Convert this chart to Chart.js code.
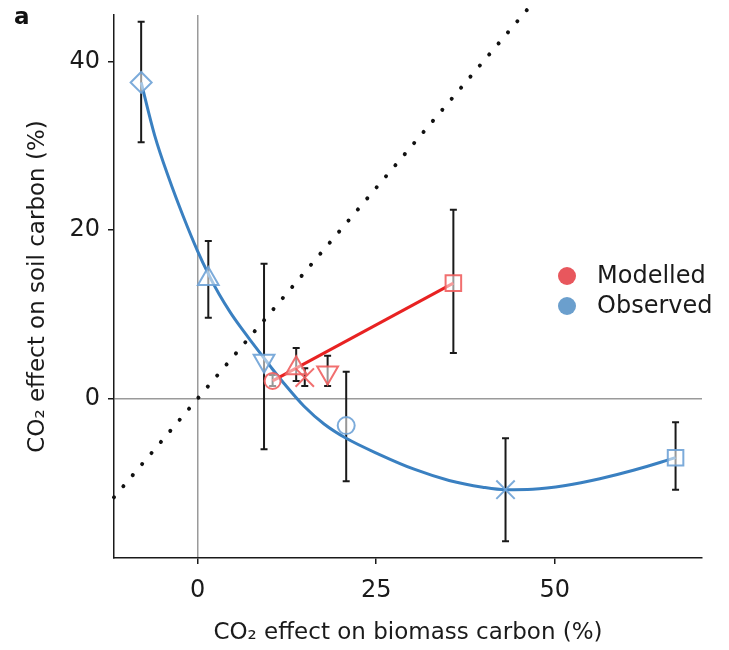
<!DOCTYPE html>
<html>
<head>
<meta charset="utf-8">
<script src="https://cdn.jsdelivr.net/npm/chart.js@4.4.0/dist/chart.umd.min.js"></script>
<style>
  body { margin: 0; background: #fff; }
</style>
</head>
<body>
<canvas id="myChart" width="729" height="650"></canvas>
<script>
// observed points (blue)
var obsX  = [-7.9, 1.5, 9.3, 20.8, 43.1, 66.9];
var obsY  = [37.5, 14.2, 4.5, -3.2, -10.8, -7.0];
var obsLo = [30.4, 9.6, -6.0, -9.8, -16.9, -10.8];
var obsHi = [44.7, 18.7, 16.0, 3.2, -4.7, -2.8];

// modelled points (red)
var modX  = [10.5, 13.8, 15.0, 18.2, 35.8];
var modY  = [2.1, 3.6, 2.5, 3.1, 13.7];
var modLo = [1.5, 2.1, 1.5, 1.5, 5.4];
var modHi = [2.8, 6.0, 3.6, 5.1, 22.4];

// fitted curve through observed
var fitX = [-7.9, -6, -4, -2, 0, 1.5, 3, 4.6, 6, 7.5, 9.3, 10.3, 12.1, 14.9, 17.7, 20.8, 25.4, 30.4, 35.2, 39.9, 43.1, 46.9, 51.5, 56.3, 61.0, 66.9];
var fitY = [37.5, 31.2, 26.1, 21.6, 17.5, 14.8, 12.4, 10.2, 8.5, 6.8, 4.8, 3.7, 1.8, -0.9, -3.0, -4.7, -6.6, -8.4, -9.7, -10.5, -10.8, -10.75, -10.3, -9.5, -8.5, -7.0];

// 1:1 line
var oneX = [-11.7, 47.2];

var xTicks = [0, 25, 50];
var yTicks = [0, 20, 40];
var seriesNames = ["Modelled", "Observed"];

var ctx = document.getElementById("myChart").getContext('2d');

var obsPts = [], modPts = [], fitPts = [], onePts = [];
for (var i = 0; i < obsX.length; i++) obsPts.push({x: obsX[i], y: obsY[i]});
for (var i = 0; i < modX.length; i++) modPts.push({x: modX[i], y: modY[i]});
for (var i = 0; i < fitX.length; i++) fitPts.push({x: fitX[i], y: fitY[i]});
for (var i = 0; i < oneX.length; i++) onePts.push({x: oneX[i], y: oneX[i]});
var modLine = [modPts[0], modPts[modPts.length - 1]];

var font = "'DejaVu Sans', sans-serif";

var errorBars = {
  id: 'errorBars',
  beforeDatasetsDraw: function(chart) {
    var c = chart.ctx, xs = chart.scales.x, ys = chart.scales.y;
    function bars(X, Lo, Hi) {
      for (var i = 0; i < X.length; i++) {
        var px = xs.getPixelForValue(X[i]);
        var p1 = ys.getPixelForValue(Lo[i]);
        var p2 = ys.getPixelForValue(Hi[i]);
        c.beginPath();
        c.moveTo(px, p1); c.lineTo(px, p2);
        c.moveTo(px - 3.5, p1); c.lineTo(px + 3.5, p1);
        c.moveTo(px - 3.5, p2); c.lineTo(px + 3.5, p2);
        c.stroke();
      }
    }
    c.save();
    c.strokeStyle = '#1a1a1a';
    c.lineWidth = 2;
    bars(obsX, obsLo, obsHi);
    bars(modX, modLo, modHi);
    c.restore();
  }
};

var extras = {
  id: 'extras',
  afterDraw: function(chart) {
    var c = chart.ctx;
    c.save();
    c.fillStyle = '#111';
    c.font = "bold 23px " + font;
    c.textBaseline = 'alphabetic';
    c.fillText('a', 14, 24);
    // legend
    var cols = ['#e8575d', '#6b9fcd'];
    c.font = "24px " + font;
    c.textBaseline = 'middle';
    for (var i = 0; i < seriesNames.length; i++) {
      var y = 276 + i * 30;
      c.beginPath();
      c.fillStyle = cols[i];
      c.arc(567, y, 9, 0, Math.PI * 2);
      c.fill();
      c.fillStyle = '#1a1a1a';
      c.fillText(seriesNames[i], 597, y + 1);
    }
    c.restore();
  }
};

var myChart = new Chart(ctx, {
  type: 'scatter',
  data: {
    datasets: [
      {
        label: "Modelled",
        data: modPts,
        pointStyle: ['circle', 'triangle', 'crossRot', 'triangle', 'rect'],
        pointRotation: [0, 0, 0, 180, 0],
        pointRadius: [8, 12, 13, 12, 11],
        pointBorderColor: 'rgba(240, 95, 95, 0.9)',
        pointBackgroundColor: 'rgba(255, 255, 255, 0.55)',
        pointBorderWidth: 2,
        showLine: false
      },
      {
        label: "Observed",
        data: obsPts,
        pointStyle: ['rectRot', 'triangle', 'triangle', 'circle', 'crossRot', 'rect'],
        pointRotation: [0, 0, 180, 0, 0, 0],
        pointRadius: [10.5, 12, 12, 8.5, 13, 11],
        pointBorderColor: 'rgba(110, 162, 214, 0.9)',
        pointBackgroundColor: 'rgba(255, 255, 255, 0.55)',
        pointBorderWidth: 2,
        showLine: false
      },
      {
        label: "Modelled fit",
        data: modLine,
        showLine: true,
        borderColor: '#e82222',
        borderWidth: 3,
        pointRadius: 0
      },
      {
        label: "Observed fit",
        data: fitPts,
        showLine: true,
        borderColor: '#3a80c1',
        borderWidth: 3,
        cubicInterpolationMode: 'monotone',
        pointRadius: 0
      },
      {
        label: "1:1",
        data: onePts,
        showLine: true,
        borderColor: '#111',
        borderWidth: 4,
        borderDash: [0.01, 14.5],
        borderCapStyle: 'round',
        pointRadius: 0,
        clip: false
      }
    ]
  },
  options: {
    responsive: false,
    animation: false,
    layout: { padding: { top: 14, right: 27, left: 0, bottom: 0 } },
    plugins: {
      legend: { display: false },
      tooltip: { enabled: false }
    },
    scales: {
      x: {
        type: 'linear',
        min: -11.7,
        max: 70.6,
        afterBuildTicks: function(s) { s.ticks = xTicks.map(function(v) { return {value: v}; }); },
        afterFit: function(s) { s.height = 92; s.paddingLeft = 0; s.paddingRight = 0; },
        border: { color: '#1a1a1a', width: 1.5 },
        grid: {
          color: function(c) { return c.tick && c.tick.value === 0 ? '#9a9a9a' : 'rgba(0,0,0,0)'; },
          lineWidth: 1.5,
          tickColor: '#1a1a1a',
          tickLength: 6
        },
        ticks: { font: { family: font, size: 24 }, color: '#1a1a1a', padding: 12, maxRotation: 0 },
        title: {
          display: true,
          text: 'CO₂ effect on biomass carbon (%)',
          font: { family: font, size: 23 },
          color: '#1a1a1a',
          padding: { top: 0, bottom: 3 }
        }
      },
      y: {
        type: 'linear',
        min: -18.9,
        max: 45.5,
        afterBuildTicks: function(s) { s.ticks = yTicks.map(function(v) { return {value: v}; }); },
        afterFit: function(s) { s.width = 114; s.paddingTop = 0; s.paddingBottom = 0; },
        border: { color: '#1a1a1a', width: 1.5 },
        grid: {
          color: function(c) { return c.tick && c.tick.value === 0 ? '#9a9a9a' : 'rgba(0,0,0,0)'; },
          lineWidth: 1.5,
          tickColor: '#1a1a1a',
          tickLength: 6
        },
        ticks: { font: { family: font, size: 24 }, color: '#1a1a1a', padding: 8 },
        title: {
          display: true,
          text: 'CO₂ effect on soil carbon (%)',
          font: { family: font, size: 23 },
          color: '#1a1a1a',
          padding: { top: 24, bottom: 0 }
        }
      }
    }
  },
  plugins: [errorBars, extras]
});
</script>
</body>
</html>
